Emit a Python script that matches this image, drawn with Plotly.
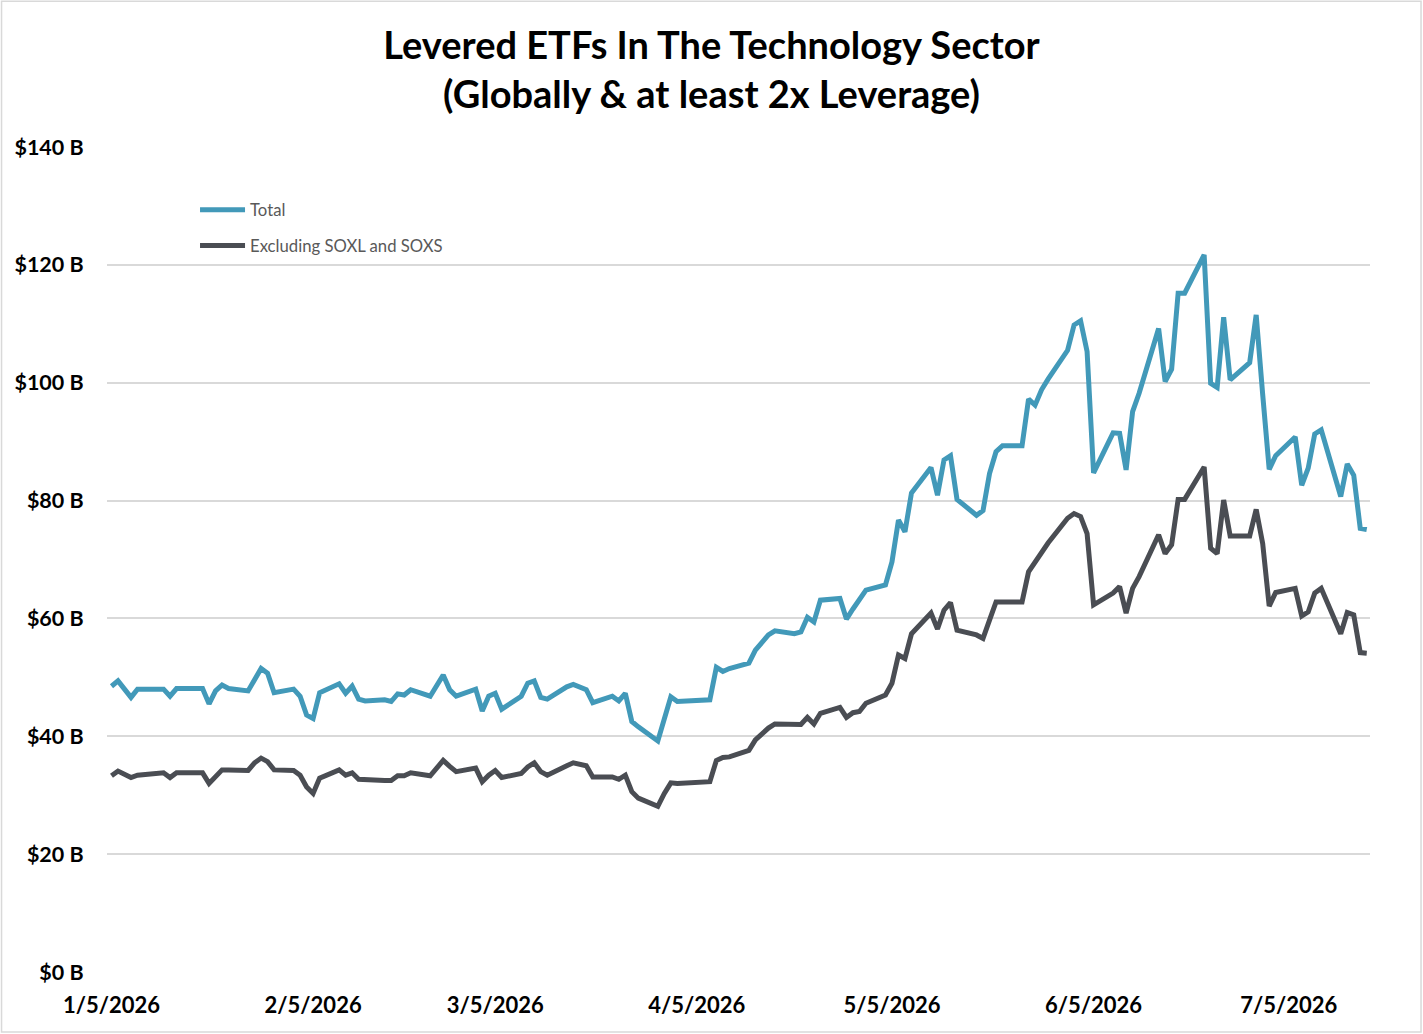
import plotly.graph_objects as go

dates = [
    "2026-01-05", "2026-01-06", "2026-01-08", "2026-01-09", "2026-01-13", "2026-01-14",
    "2026-01-15", "2026-01-19", "2026-01-20", "2026-01-21", "2026-01-22", "2026-01-23",
    "2026-01-26", "2026-01-27", "2026-01-28", "2026-01-29", "2026-01-30",
    "2026-02-02", "2026-02-03", "2026-02-04", "2026-02-05", "2026-02-06", "2026-02-09",
    "2026-02-10", "2026-02-11", "2026-02-12", "2026-02-13", "2026-02-16", "2026-02-17",
    "2026-02-18", "2026-02-19", "2026-02-20", "2026-02-23", "2026-02-25", "2026-02-26",
    "2026-02-27",
    "2026-03-02", "2026-03-03", "2026-03-04", "2026-03-05", "2026-03-06", "2026-03-09",
    "2026-03-10", "2026-03-11", "2026-03-12", "2026-03-13", "2026-03-16", "2026-03-17",
    "2026-03-19", "2026-03-20", "2026-03-23", "2026-03-24", "2026-03-25", "2026-03-26",
    "2026-03-27", "2026-03-30", "2026-03-31",
    "2026-04-01", "2026-04-02", "2026-04-06", "2026-04-07", "2026-04-08", "2026-04-09",
    "2026-04-10", "2026-04-13", "2026-04-14", "2026-04-16", "2026-04-17", "2026-04-20",
    "2026-04-21", "2026-04-22", "2026-04-23", "2026-04-24", "2026-04-27", "2026-04-28",
    "2026-04-29", "2026-04-30",
    "2026-05-01", "2026-05-04", "2026-05-05", "2026-05-06", "2026-05-07", "2026-05-08",
    "2026-05-11", "2026-05-12", "2026-05-13", "2026-05-14", "2026-05-15", "2026-05-18",
    "2026-05-19", "2026-05-20", "2026-05-21", "2026-05-22", "2026-05-25", "2026-05-26",
    "2026-05-27", "2026-05-28", "2026-05-29",
    "2026-06-01", "2026-06-02", "2026-06-03", "2026-06-04", "2026-06-05", "2026-06-08",
    "2026-06-09", "2026-06-10", "2026-06-11", "2026-06-12", "2026-06-15", "2026-06-16",
    "2026-06-17", "2026-06-18", "2026-06-19", "2026-06-22", "2026-06-23", "2026-06-24",
    "2026-06-25", "2026-06-26", "2026-06-29", "2026-06-30",
    "2026-07-01", "2026-07-02", "2026-07-03", "2026-07-06", "2026-07-07", "2026-07-08",
    "2026-07-09", "2026-07-10", "2026-07-13", "2026-07-14", "2026-07-15", "2026-07-16",
    "2026-07-17",
]

total = [
    48.5, 49.4, 46.6, 48.0, 48.0, 46.8,
    48.1, 48.1, 45.5, 47.7, 48.7, 48.1,
    47.7, 49.7, 51.5, 50.7, 47.4,
    48.0, 46.8, 43.6, 43.0, 47.4, 48.9,
    47.3, 48.5, 46.3, 46.0, 46.2, 45.9,
    47.2, 47.0, 47.9, 46.8, 50.4, 47.9,
    46.8,
    48.0, 44.3, 46.8, 47.3, 44.6, 46.8,
    49.0, 49.4, 46.6, 46.3, 48.4, 48.8,
    47.9, 45.7, 46.8, 46.0, 47.3, 42.5,
    41.6, 39.2, 43.3,
    46.7, 45.9, 46.0, 46.2, 51.7, 51.0,
    51.5, 52.4, 54.6, 57.2, 57.9, 57.4,
    57.7, 60.2, 59.4, 63.1, 63.4, 59.9,
    61.6, 63.2,
    64.8, 65.7, 69.6, 76.7, 74.7, 81.3,
    85.6, 80.9, 86.9, 87.6, 80.2, 77.5,
    78.3, 84.6, 88.3, 89.3, 89.3, 97.2,
    96.2, 98.8, 100.6,
    105.5, 109.8, 110.5, 105.3, 84.7, 91.5,
    91.4, 85.2, 95.1, 98.2, 109.2, 100.2,
    102.3, 115.2, 115.2, 121.7, 99.9, 99.2,
    111.1, 100.5, 103.4, 111.5,
    98.0, 85.3, 87.6, 90.8, 82.6, 85.5,
    91.3, 92.0, 80.7, 86.2, 84.3, 75.3,
    75.1,
]

excl_soxl_soxs = [
    33.3, 34.1, 33.0, 33.4, 33.8, 33.0,
    33.8, 33.8, 32.0, 33.1, 34.3, 34.3,
    34.2, 35.5, 36.3, 35.7, 34.3,
    34.2, 33.4, 31.4, 30.3, 32.9, 34.3,
    33.4, 33.8, 32.7, 32.6, 32.5, 32.5,
    33.3, 33.3, 33.8, 33.3, 35.9, 34.9,
    34.0,
    34.6, 32.3, 33.4, 34.2, 33.0, 33.7,
    34.8, 35.5, 34.0, 33.4, 35.0, 35.5,
    35.0, 33.1, 33.1, 32.7, 33.4, 30.6,
    29.5, 28.1, 30.3,
    32.1, 32.0, 32.1, 32.3, 35.9, 36.4,
    36.5, 37.6, 39.4, 41.4, 42.1, 41.9,
    42.0, 43.2, 42.1, 43.9, 44.9, 43.2,
    44.0, 44.2,
    45.6, 47.0, 49.0, 53.8, 53.2, 57.4,
    60.9, 58.2, 61.4, 62.7, 58.0, 57.2,
    56.6, 59.7, 62.8, 62.8, 62.8, 67.9,
    69.6, 71.1, 72.8,
    77.0, 77.8, 77.3, 74.4, 62.3, 64.3,
    65.4, 60.9, 65.1, 67.1, 74.2, 71.0,
    72.5, 80.2, 80.2, 85.7, 71.9, 71.0,
    80.1, 74.0, 74.0, 78.5,
    72.7, 62.1, 64.4, 65.1, 60.4, 61.1,
    64.3, 65.1, 57.4, 61.0, 60.6, 54.2,
    54.1,
]

tick_dates = ["2026-01-05", "2026-02-05", "2026-03-05", "2026-04-05",
              "2026-05-05", "2026-06-05", "2026-07-05"]
tick_text = ["1/5/2026", "2/5/2026", "3/5/2026", "4/5/2026",
             "5/5/2026", "6/5/2026", "7/5/2026"]
y_ticks = [0, 20, 40, 60, 80, 100, 120, 140]
y_text = ["$0 B", "$20 B", "$40 B", "$60 B", "$80 B", "$100 B", "$120 B", "$140 B"]

BLUE = "#4299B9"
GRAY = "#4A4D53"
FONT = "Lato"

fig = go.Figure()
fig.add_trace(go.Scatter(x=dates, y=total, mode="lines", name="Total",
                         line=dict(color=BLUE, width=5), legendgroup="a"))
fig.add_trace(go.Scatter(x=dates, y=excl_soxl_soxs, mode="lines",
                         name="Excluding SOXL and SOXS",
                         line=dict(color=GRAY, width=5), legendgroup="b"))

fig.update_layout(
    width=1423, height=1034,
    margin=dict(l=107, r=53, t=147, b=62),
    paper_bgcolor="white", plot_bgcolor="white",
    font=dict(family=FONT, color="#000000"),
    title=dict(
        text="Levered ETFs In The Technology Sector<br>(Globally & at least 2x Leverage)",
        x=0.5, xanchor="center", xref="container",
        y=0.943, yanchor="middle", yref="container",
        font=dict(family=FONT, size=38, color="#000000", weight="bold"),
    ),
    legend=dict(
        x=0.0697, y=0.945, xanchor="left", yanchor="top",
        bgcolor="rgba(0,0,0,0)", font=dict(family=FONT, size=16.7, color="#595959"),
        tracegroupgap=11, itemwidth=45,
    ),
    showlegend=True,
    xaxis=dict(
        type="date",
        range=["2026-01-04 07:24", "2026-07-17 12:00"],
        tickvals=tick_dates, ticktext=tick_text,
        tickfont=dict(family=FONT, size=22, color="#000000", weight="bold"),
        showgrid=False, showline=False, zeroline=False,
        ticks="outside", ticklen=14, tickcolor="rgba(0,0,0,0)",
    ),
    yaxis=dict(
        range=[0, 140],
        tickvals=y_ticks, ticktext=y_text,
        tickfont=dict(family=FONT, size=21.5, color="#000000", weight="bold"),
        showgrid=True, gridcolor="#D9D9D9", gridwidth=1.5,
        showline=False, zeroline=False,
        ticks="outside", ticklen=18, tickcolor="rgba(0,0,0,0)",
    ),
)

fig.add_shape(type="rect", xref="paper", yref="paper",
              x0=-0.0835, x1=1.0404, y0=-0.0727, y1=1.1767,
              line=dict(color="#D9D9D9", width=1.5), layer="below")

fig.write_html("out.html")
